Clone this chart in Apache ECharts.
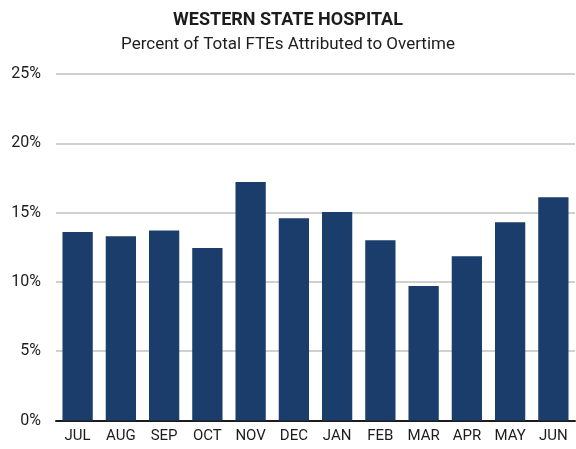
<!DOCTYPE html>
<html>
<head>
<meta charset="utf-8">
<script src="https://cdn.jsdelivr.net/npm/echarts@6/dist/echarts.min.js"></script>
<style>
  html, body { margin: 0; padding: 0; background: #fff; }
  #chart { width: 576px; height: 449px; }
</style>
</head>
<body>
<div id="chart"></div>
<script>
// data
var months = ['JUL', 'AUG', 'SEP', 'OCT', 'NOV', 'DEC', 'JAN', 'FEB', 'MAR', 'APR', 'MAY', 'JUN'];
var overtimePct = [13.6, 13.3, 13.7, 12.45, 17.2, 14.6, 15.05, 13.0, 9.7, 11.85, 14.3, 16.1];

var font = 'Roboto, sans-serif';
var chart = echarts.init(document.getElementById('chart'));

var option = {
    animation: false,
    title: {
        text: 'WESTERN STATE HOSPITAL',
        subtext: 'Percent of Total FTEs Attributed to Overtime',
        left: 'center',
        top: 6,
        itemGap: 7,
        textStyle: { fontFamily: font, fontWeight: 'bold', fontSize: 18, color: '#1e1b1c' },
        subtextStyle: { fontFamily: font, fontSize: 17, color: '#1e1b1c' }
    },
    grid: { left: 56, right: 1, top: 74, bottom: 28.5 },
    xAxis: {
        type: 'category',
        data: months,
        axisLine: { lineStyle: { color: '#1e1b1c', width: 2 } },
        axisTick: { show: false },
        axisLabel: { interval: 0, fontFamily: font, fontSize: 15, color: '#1e1b1c', margin: 8 }
    },
    yAxis: {
        type: 'value',
        min: 0,
        max: 25,
        interval: 5,
        axisLine: { show: false },
        axisTick: { show: false },
        axisLabel: { formatter: '{value}%', fontFamily: font, fontSize: 16, color: '#1e1b1c', margin: 15 },
        splitLine: { lineStyle: { color: '#d0d0d0', width: 2 } }
    },
    series: [{
        type: 'bar',
        data: overtimePct,
        barCategoryGap: '30%',
        itemStyle: { color: '#1b3d6b' }
    }]
};

chart.setOption(option);
</script>
</body>
</html>
